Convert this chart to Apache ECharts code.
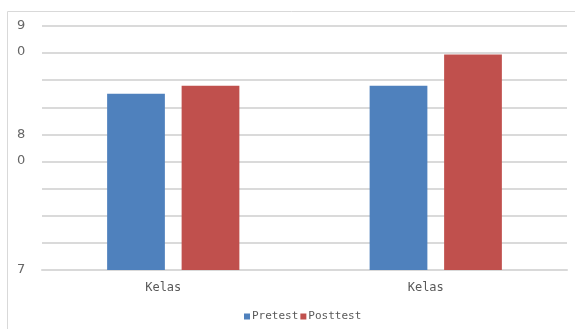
<!DOCTYPE html>
<html style="height: 100%">

<head>
    <meta charset="utf-8">
</head>

<body style="height: 100%; margin: 0; background: #fff">
    <div id="container" style="width: 575px; height: 329px"></div>
    <script type="text/javascript" src="https://cdn.jsdelivr.net/npm/echarts@6/dist/echarts.min.js"></script>
    <script type="text/javascript">
        var categories = ['Kelas', 'Kelas'];
        var pretest = [83.0, 83.6];
        var posttest = [83.6, 85.9];
        // the wrapped tick labels as they show up in the picture
        var tickLabels = { 70: '7', 80: '\n8\n0', 88: '\n9\n0' };

        var dom = document.getElementById("container");
        var myChart = echarts.init(dom);
        var option = {
            animation: false,
            graphic: [{
                type: 'rect',
                shape: { x: 7.5, y: 11.5, width: 600, height: 400 },
                style: { fill: 'none', stroke: '#d9d9d9', lineWidth: 1 },
                silent: true
            }],
            legend: {
                left: 239,
                top: 306,
                itemWidth: 6,
                itemHeight: 6,
                itemGap: 2,
                icon: 'rect',
                textStyle: { fontFamily: 'DejaVu Sans Mono', fontSize: 11, color: '#595959', padding: [0, 0, 0, -3] },
                data: ['Pretest', 'Posttest']
            },
            grid: {
                left: 42,
                right: 8,
                top: 26,
                bottom: 59,
                outerBoundsMode: 'none'
            },
            xAxis: {
                type: 'category',
                data: categories,
                axisLine: { lineStyle: { color: '#d9d9d9', width: 2 } },
                axisTick: { show: false },
                axisLabel: {
                    margin: 12,
                    fontFamily: 'DejaVu Sans Mono',
                    fontSize: 12,
                    color: '#595959',
                    padding: [0, 20, 0, 0]
                }
            },
            yAxis: {
                type: 'value',
                min: 70,
                max: 88,
                interval: 2,
                axisLine: { show: false },
                axisTick: { show: false },
                splitLine: { lineStyle: { color: '#dadada', width: 2 } },
                axisLabel: {
                    align: 'left',
                    margin: 25,
                    fontFamily: 'DejaVu Sans',
                    fontSize: 13,
                    lineHeight: 26,
                    color: '#666',
                    formatter: function (v) {
                        return tickLabels[v] || '';
                    }
                }
            },
            series: [{
                    name: 'Pretest',
                    type: 'bar',
                    data: pretest,
                    barWidth: '22%',
                    barGap: '29%',
                    itemStyle: { color: '#4f81bd' }
                },
                {
                    name: 'Posttest',
                    type: 'bar',
                    data: posttest,
                    barWidth: '22%',
                    itemStyle: { color: '#c0504d' }
                }
            ]
        };
        myChart.setOption(option, true);
    </script>
</body>

</html>
